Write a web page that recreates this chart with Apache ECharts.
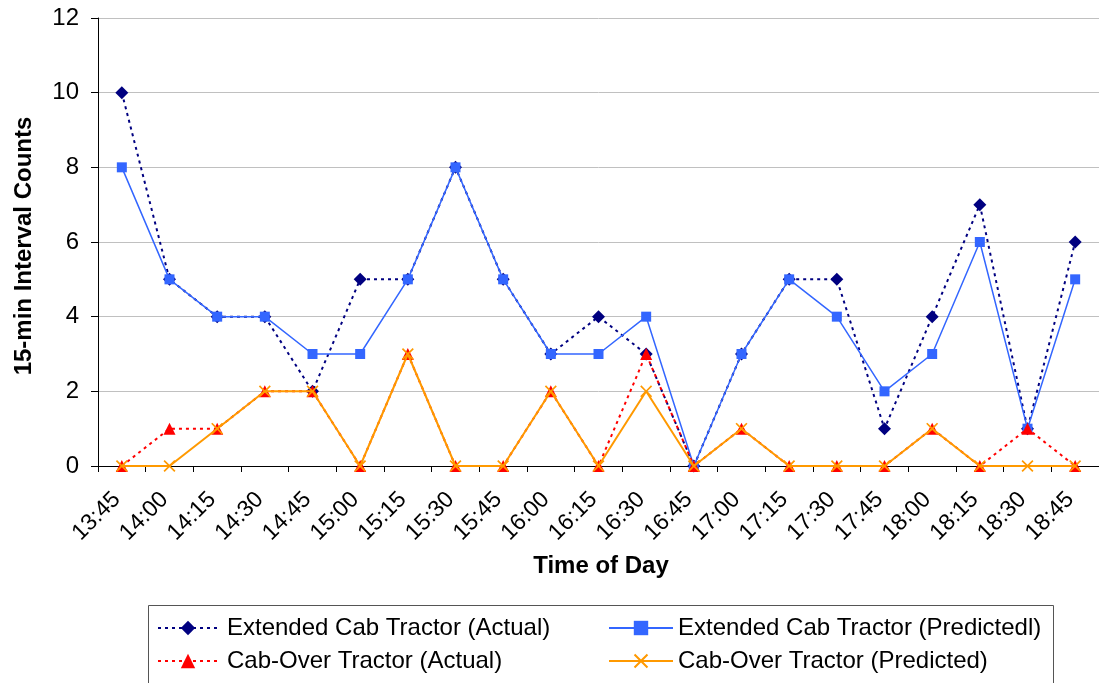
<!DOCTYPE html>
<html>
<head>
<meta charset="utf-8">
<script src="https://cdn.jsdelivr.net/npm/echarts@6/dist/echarts.min.js"></script>
<style>
html,body{margin:0;padding:0;background:#fff;}
#chart{width:1099px;height:683px;}
</style>
</head>
<body>
<div id="chart"></div>
<script>
const categories = ['13:45','14:00','14:15','14:30','14:45','15:00','15:15','15:30','15:45','16:00','16:15','16:30','16:45','17:00','17:15','17:30','17:45','18:00','18:15','18:30','18:45'];
const extActual    = [10, 5, 4, 4, 2, 5, 5, 8, 5, 3, 4, 3, 0, 3, 5, 5, 1, 4, 7, 1, 6];
const extPredicted = [ 8, 5, 4, 4, 3, 3, 5, 8, 5, 3, 3, 4, 0, 3, 5, 4, 2, 3, 6, 1, 5];
const cabActual    = [ 0, 1, 1, 2, 2, 0, 3, 0, 0, 2, 0, 3, 0, 1, 0, 0, 0, 1, 0, 1, 0];
const cabPredicted = [ 0, 0, 1, 2, 2, 0, 3, 0, 0, 2, 0, 2, 0, 1, 0, 0, 0, 1, 0, 0, 0];
const seriesNames = ['Extended Cab Tractor (Actual)', 'Extended Cab Tractor (Predictedl)', 'Cab-Over Tractor (Actual)', 'Cab-Over Tractor (Predicted)'];
const yTitle = '15-min Interval Counts';
const xTitle = 'Time of Day';

const FONT = '"Liberation Sans", Arial, sans-serif';
const crossPath = 'path://M0,1L1,0L5,4L9,0L10,1L6,5L10,9L9,10L5,6L1,10L0,9L4,5Z';

const chart = echarts.init(document.getElementById('chart'), null, {renderer: 'canvas'});
const option = {
  animation: false,
  backgroundColor: '#ffffff',
  textStyle: {fontFamily: FONT},
  grid: {left: 98, right: -5, top: 18, bottom: 217, containLabel: false},
  xAxis: {
    type: 'category',
    data: categories,
    boundaryGap: true,
    axisLine: {lineStyle: {color: '#000', width: 1}},
    axisTick: {show: true, length: 6, lineStyle: {color: '#000'}, alignWithLabel: false},
    axisLabel: {interval: 0, rotate: 45, margin: 25, padding: [0, 7, 0, 0], fontSize: 23, color: '#000', fontFamily: FONT},
    splitLine: {show: false}
  },
  yAxis: {
    type: 'value',
    min: 0, max: 12, interval: 2,
    axisLine: {show: true, lineStyle: {color: '#000', width: 1}},
    axisTick: {show: true, length: 7, lineStyle: {color: '#000'}},
    axisLabel: {margin: 19, fontSize: 24, color: '#000', fontFamily: FONT},
    splitLine: {show: true, lineStyle: {color: '#c0c0c0', width: 1}}
  },
  legend: [
    {
      left: 157, top: 616, orient: 'vertical', padding: 0, itemGap: 9,
      itemWidth: 60, itemHeight: 18,
      data: [seriesNames[0], seriesNames[2]],
      textStyle: {fontSize: 24, color: '#000', fontFamily: FONT, lineHeight: 24, padding: [0, 0, 0, 4]}
    },
    {
      left: 608, top: 616, orient: 'vertical', padding: 0, itemGap: 9,
      itemWidth: 64, itemHeight: 18,
      data: [seriesNames[1], seriesNames[3]],
      textStyle: {fontSize: 24, color: '#000', fontFamily: FONT, lineHeight: 24}
    }
  ],
  graphic: [
    {type: 'rect', shape: {x: 148.5, y: 605.5, width: 905, height: 100}, style: {fill: 'none', stroke: '#555', lineWidth: 1}, z: -1},
    {type: 'text', x: 24, y: 246, rotation: Math.PI / 2, style: {text: yTitle, font: 'bold 24px ' + FONT, fill: '#000', align: 'center', verticalAlign: 'middle'}},
    {type: 'text', x: 601, y: 566, style: {text: xTitle, font: 'bold 24px ' + FONT, fill: '#000', align: 'center', verticalAlign: 'middle'}}
  ],
  series: [
    {
      name: seriesNames[0], type: 'line', data: extActual,
      symbol: 'diamond', symbolSize: 13,
      lineStyle: {color: '#000080', width: 2, type: [3, 4]},
      itemStyle: {color: '#000080'},
      z: 2
    },
    {
      name: seriesNames[1], type: 'line', data: extPredicted,
      symbol: 'rect', symbolSize: 10,
      lineStyle: {color: '#3366ff', width: 1.5, type: 'solid'},
      itemStyle: {color: '#3366ff'},
      z: 3
    },
    {
      name: seriesNames[2], type: 'line', data: cabActual,
      symbol: 'triangle', symbolSize: 12,
      lineStyle: {color: '#ff0000', width: 2, type: [3, 4]},
      itemStyle: {color: '#ff0000'},
      z: 4
    },
    {
      name: seriesNames[3], type: 'line', data: cabPredicted,
      symbol: crossPath, symbolSize: 12,
      lineStyle: {color: '#ff9900', width: 2, type: 'solid'},
      itemStyle: {color: '#ff9900'},
      z: 5
    }
  ]
};
chart.setOption(option);
</script>
</body>
</html>
